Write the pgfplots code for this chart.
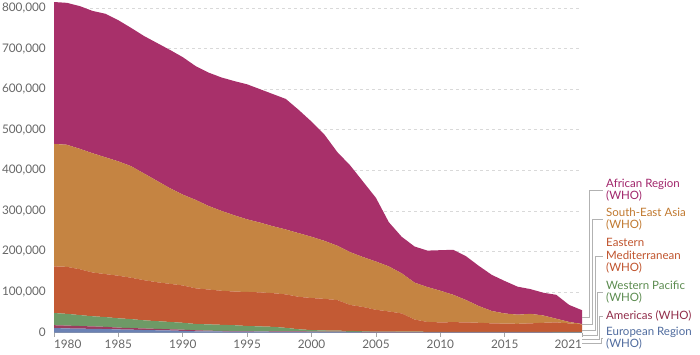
\documentclass[border=0pt]{standalone}
\usepackage{fontspec}
\setmainfont{Lato}
\usepackage{pgfplots}
\usepackage{pgfplotstable}
\pgfplotsset{compat=1.18}
\definecolor{cAFR}{HTML}{A8306A}
\definecolor{cSEAR}{HTML}{C58442}
\definecolor{cEMR}{HTML}{C35A34}
\definecolor{cWPR}{HTML}{6E9A66}
\definecolor{cAMR}{HTML}{9A3C5E}
\definecolor{cEUR}{HTML}{6B82B4}
\definecolor{tAFR}{HTML}{A0246A}
\definecolor{tSEAR}{HTML}{C0782E}
\definecolor{tEMR}{HTML}{BF532C}
\definecolor{tWPR}{HTML}{5B8B4F}
\definecolor{tAMR}{HTML}{902C49}
\definecolor{tEUR}{HTML}{4F6B9E}
\pgfplotstableread{
year eur amr wpr emr sear afr
1980 11000 7000 30000 115000 302000 350000
1981 10000 7000 29000 116000 301000 350000
1982 9500 6500 27000 113000 297000 352000
1983 9000 6000 25000 108000 294000 351000
1984 8500 5500 24000 106000 288000 354000
1985 7500 4500 23000 105000 282000 348000
1986 7000 4000 22000 102000 275000 341000
1987 6000 4000 20000 99000 263000 339000
1988 5500 3500 19000 96000 250000 340000
1989 5000 3000 18000 94000 236000 341000
1990 4000 3000 17000 92000 224000 339000
1991 3000 2500 15500 88000 218000 330000
1992 2500 2000 15500 86000 206000 329000
1993 2500 1500 15000 84000 197000 329000
1994 2200 1300 14500 83000 188000 331000
1995 2000 1200 12800 84000 179000 333000
1996 2000 1000 12000 84000 172000 329000
1997 1800 1200 11000 83000 165000 326000
1998 1700 1100 8700 82500 160000 322000
1999 1500 1100 5400 80000 157000 304000
2000 1300 1100 3600 79000 151000 284000
2001 1200 1000 2800 78000 143000 262000
2002 1000 1000 2500 75500 134000 231000
2003 800 1000 2200 64000 130000 214000
2004 600 1000 1400 60000 123000 186000
2005 400 1000 600 54000 119000 157000
2006 300 1000 700 50000 111000 109000
2007 200 1000 800 45000 99000 90000
2008 200 900 900 30000 91000 89000
2009 100 900 800 24200 86000 90000
2010 100 900 800 23200 78000 100000
2011 100 900 800 23700 67500 111000
2012 100 800 800 23300 55000 108000
2013 100 800 700 22400 41000 99000
2014 100 700 700 21000 30500 89000
2015 100 700 700 20500 25000 80000
2016 100 600 700 20100 22500 69000
2017 100 600 700 21100 23500 61000
2018 100 600 700 22600 18000 56000
2019 100 500 700 23700 9000 59000
2020 100 500 700 21200 3500 42000
2021 100 500 700 18700 1000 34000
}\data
\newcommand{\lbl}{\fontsize{11.5}{12.6}\selectfont}
\begin{document}
\begin{tikzpicture}[x=1pt,y=1pt]
\useasboundingbox (0,0) rectangle (700,354);
\begin{axis}[
  at={(54pt,21.5pt)}, anchor=south west,
  scale only axis, width=528pt, height=332.5pt,
  xmin=1980, xmax=2021, ymin=0, ymax=820000,
  stack plots=y,
  axis lines*=left,
  y axis line style={draw=none},
  x axis line style={draw=black!35, line width=0.6pt},
  xtick={1980,1985,1990,1995,2000,2005,2010,2015,2021},
  xticklabels={\makebox[0pt][l]{1980},1985,1990,1995,2000,2005,2010,2015,\makebox[0pt][r]{2021}},
  ytick={0,100000,200000,300000,400000,500000,600000,700000,800000},
  yticklabels={0,{100,000},{200,000},{300,000},{400,000},{500,000},{600,000},{700,000},{800,000}},
  ytick style={draw=none},
  xtick style={draw=black!35, line width=0.6pt},
  major tick length=4pt, tick align=outside,
  ymajorgrids,
  major grid style={draw=black!15, dash pattern=on 3pt off 3pt, line width=0.6pt},
  tick label style={font=\fontsize{11.8}{12}\selectfont, text=black!60},
  yticklabel style={anchor=east, inner sep=0pt, xshift=-4pt},
  xticklabel style={anchor=north, inner sep=0pt, yshift=-3pt},
]
\addplot[fill=cEUR, draw=none] table[x=year,y=eur]{\data} \closedcycle;
\addplot[fill=cAMR, draw=none] table[x=year,y=amr]{\data} \closedcycle;
\addplot[fill=cWPR, draw=none] table[x=year,y=wpr]{\data} \closedcycle;
\addplot[fill=cEMR, draw=none] table[x=year,y=emr]{\data} \closedcycle;
\addplot[fill=cSEAR, draw=none] table[x=year,y=sear]{\data} \closedcycle;
\addplot[fill=cAFR, draw=none] table[x=year,y=afr]{\data} \closedcycle;
\end{axis}
\begin{scope}[draw=black!30, line width=0.6pt]
\draw (582,37) -- (589,37) -- (589,164) -- (603,164);
\draw (582,30) -- (592.5,30) -- (592.5,135) -- (603,135);
\draw (582,24) -- (595,24) -- (595,98) -- (603,98);
\draw (582,19) -- (597,19) -- (597,62) -- (603,62);
\draw (582,15) -- (599,15) -- (599,38) -- (603,38);
\draw (582,11) -- (601,11) -- (601,16) -- (603,16);
\end{scope}
\begin{scope}[every node/.style={anchor=west, align=left, inner sep=0pt, font=\lbl}]
\node[text=tAFR] at (606,164) {African Region\\(WHO)};
\node[text=tSEAR] at (606,135) {South-East Asia\\(WHO)};
\node[text=tEMR] at (606,98) {Eastern\\Mediterranean\\(WHO)};
\node[text=tWPR] at (606,62) {Western Pacific\\(WHO)};
\node[text=tAMR] at (606,38.5) {Americas (WHO)};
\node[text=tEUR] at (606,16) {European Region\\(WHO)};
\end{scope}
\end{tikzpicture}
\end{document}
